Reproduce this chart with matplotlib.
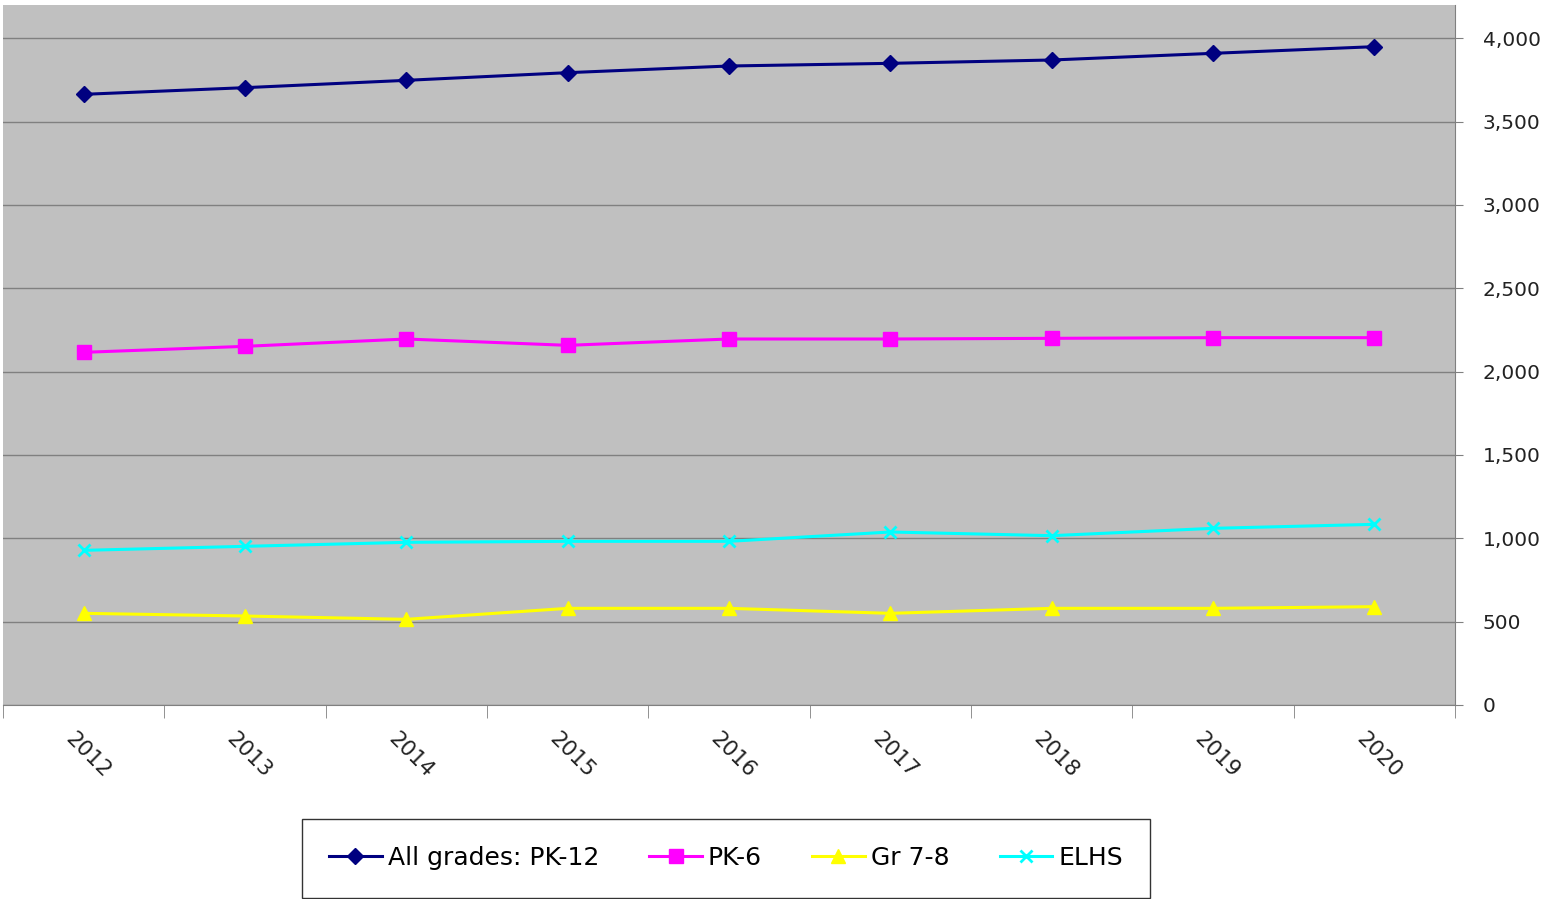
import numpy as np
import matplotlib.pyplot as plt
from matplotlib.ticker import FuncFormatter, FixedLocator
from matplotlib.transforms import ScaledTranslation

years = ["2012", "2013", "2014", "2015", "2016", "2017", "2018", "2019", "2020"]
all_grades = [3664, 3704, 3748, 3794, 3834, 3850, 3870, 3910, 3950]
pk6 = [2116, 2152, 2196, 2158, 2196, 2196, 2200, 2204, 2204]
gr78 = [550, 534, 514, 580, 580, 550, 580, 580, 590]
elhs = [928, 952, 976, 982, 982, 1038, 1016, 1060, 1084]
y_ticks = [0, 500, 1000, 1500, 2000, 2500, 3000, 3500, 4000]

fig = plt.figure(figsize=(15.48, 8.99), dpi=100)
ax = fig.add_axes([3 / 1548, 1 - 705 / 899, 1452 / 1548, 700 / 899])
ax.set_facecolor("#C0C0C0")

x = np.arange(len(years))
ax.plot(x, all_grades, color="#000080", lw=2.2, marker="D", ms=8, label="All grades: PK-12")
ax.plot(x, pk6, color="#FF00FF", lw=2.2, marker="s", ms=9.5, label="PK-6")
ax.plot(x, gr78, color="#FFFF00", lw=2.2, marker="^", ms=9.5, label="Gr 7-8")
ax.plot(x, elhs, color="#00FFFF", lw=2.2, marker="x", ms=8.5, mew=2, label="ELHS")

ax.set_xlim(-0.5, len(years) - 0.5)
ax.set_ylim(0, 4200)

ax.yaxis.tick_right()
ax.set_yticks(y_ticks)
ax.yaxis.set_major_formatter(FuncFormatter(lambda v, p: f"{int(v):,}"))
ax.tick_params(axis="y", direction="out", length=6, color="#808080", labelsize=14.5, pad=14, labelcolor="#222222")
ax.grid(axis="y", color="#808080", lw=1)
ax.set_axisbelow(True)

# category labels centred, ticks at boundaries
ax.set_xticks(x)
ax.set_xticklabels(years, rotation=-45, ha="left", rotation_mode="anchor", fontsize=15.5, color="#222222")
ax.tick_params(axis="x", which="major", length=0, pad=17)
ax.xaxis.set_minor_locator(FixedLocator(np.arange(-0.5, len(years), 1)))
ax.tick_params(axis="x", which="minor", direction="out", length=9, color="#808080")
shift = ScaledTranslation(-8 / 100, 0, fig.dpi_scale_trans)
for lbl in ax.get_xticklabels():
    lbl.set_transform(lbl.get_transform() + shift)

for s in ["top", "left"]:
    ax.spines[s].set_visible(False)
for s in ["right", "bottom"]:
    ax.spines[s].set_color("#808080")

leg = fig.legend(loc="center", bbox_to_anchor=(726 / 1548, 1 - 858 / 899), ncol=4,
                 frameon=True, fancybox=False, edgecolor="black",
                 handlelength=2.1, columnspacing=2.0, borderpad=1.1, handletextpad=0.25,
                 prop={"family": ["Liberation Sans Narrow", "DejaVu Sans"], "size": 18})
leg.get_frame().set_linewidth(1)

fig.savefig("out.png", dpi=100)
